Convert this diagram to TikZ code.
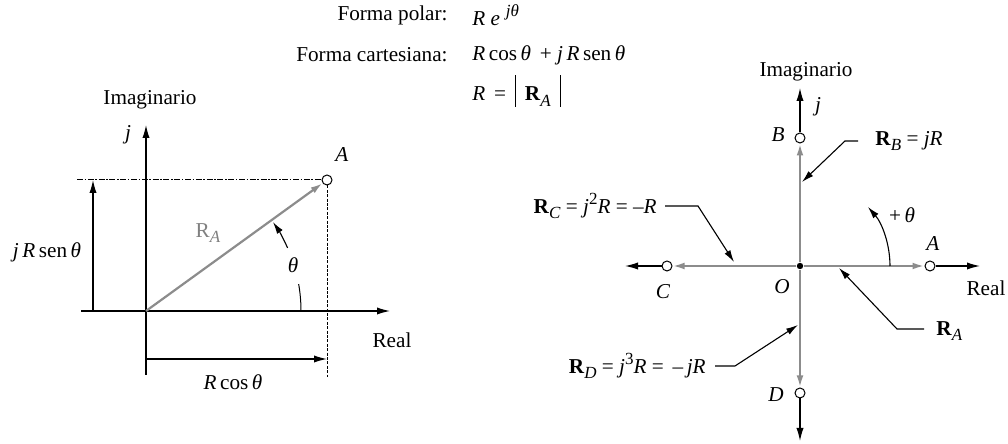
\documentclass[tikz,border=0pt]{standalone}
\usepackage{fontspec}
\setmainfont{Liberation Serif}
\usetikzlibrary{arrows.meta}
\newcommand{\mi}[1]{\textit{#1}}
\newcommand{\sbx}[1]{\raisebox{-0.55ex}{\fontsize{8.5}{9}\selectfont\textit{#1}}}
\newcommand{\spx}[1]{\raisebox{0.9ex}{\fontsize{8.5}{9}\selectfont #1}}
\newcommand{\vR}[1]{\textbf{R}\sbx{#1}}
\newcommand{\gR}[1]{R\sbx{#1}}
\begin{document}
\begin{tikzpicture}[x=0.5pt,y=0.5pt,
  every node/.style={font=\fontsize{10.6}{12}\selectfont, inner sep=1pt},
  axis/.style={line width=0.6pt, -{Latex[length=6.5pt,width=3.6pt]}},
  vec/.style={draw=black!45, line width=1.1pt, -{Latex[length=6pt,width=3.4pt]}},
  lead/.style={line width=0.55pt, -{Latex[length=6pt,width=3.4pt]}},
  pt/.style={circle, draw, fill=white, line width=0.5pt, minimum size=5pt, inner sep=0pt},
  thin/.style={line width=0.5pt},
  dsh/.style={line width=0.5pt, dash pattern=on 3pt off 0.8pt on 0.8pt off 0.8pt},
  dot/.style={line width=0.5pt, dash pattern=on 1.5pt off 0.7pt}]
\useasboundingbox (0,0) rectangle (1008,444);

% ---------- top formulas ----------
\node[anchor=east] (fp) at (450,429) {Forma polar:};
\node[anchor=west] (fpv) at (470,429) {\mi{R e}\;\spx{\mi{jθ}}};
\node[anchor=east] (fc) at (450,389) {Forma cartesiana:};
\node[anchor=west] (fcv) at (470,389) {\mi{R}\,cos\,\mi{θ}\, + \mi{j\,R}\,sen\,\mi{θ}};
\node[anchor=west] (fm) at (470,353) {\mi{R} \,=\, \raisebox{-0.6ex}{\rule{0.5pt}{3.2ex}}\, \vR{A}\, \raisebox{-0.6ex}{\rule{0.5pt}{3.2ex}}};

% ---------- left diagram ----------
\coordinate (O) at (146,133);
\node[pt] (A) at (327,264) {};
\draw[axis] (81,133) -- (390,133);
\draw[axis] (146,69) -- (146,319);
\coordinate (dl) at (77,264);
\coordinate (db) at (327,67);
\draw[dsh] (dl) -- (A.west);
\draw[dot] (A.south) -- (db);
\coordinate (ya) at (93,133);
\coordinate (yb) at (93,264);
\draw[axis] (ya) -- (yb);
\coordinate (xa) at (146,85);
\coordinate (xb) at (327,85);
\draw[axis] (xa) -- (xb);
\draw[vec] (O) -- (A);
\draw[thin] ([shift={(0:155)}]O) arc (0:10:155);
\draw[lead] ([shift={(24:155)}]O) arc (24:35:155);
\node (th) at (293,179) {\mi{θ}};
\node (im1) at (150,344) {Imaginario};
\node (j1) at (128,309) {\mi{j}};
\node (lA) at (342,289) {\mi{A}};
\node[text=black!50] (ra) at (208,211) {\gR{A}};
\node (jr) at (47,192) {\mi{j\,R}\,sen\,\mi{θ}};
\node (re1) at (392,104) {Real};
\node (rc) at (233,62) {\mi{R}\,cos\,\mi{θ}};

% ---------- right diagram ----------
\node[circle, fill, inner sep=0pt, minimum size=3.2pt] (O2) at (800,178) {};
\node[pt] (A2) at (930,178) {};
\node[pt] (B2) at (800,306) {};
\node[pt] (C2) at (667,178) {};
\node[pt] (D2) at (800,51) {};
\draw[axis] (A2) -- (980,178);
\draw[axis] (C2) -- (625,178);
\draw[axis] (B2) -- (800,356);
\draw[axis] (D2) -- (800,3);
\draw[vec] (O2) -- (A2);
\draw[vec] (O2) -- (B2);
\draw[vec] (O2) -- (C2);
\draw[vec] (O2) -- (D2);
\draw[lead] ([shift={(0:90)}]O2.center) arc (0:41:90);
\node (pth) at (902,229) {+\,\mi{θ}};
\node (im2) at (806,372) {Imaginario};
\node (j2) at (818,337) {\mi{j}};
\node (lB) at (778,309) {\mi{B}};
\node (lA2) at (933,200) {\mi{A}};
\node (lC) at (663,152) {\mi{C}};
\node (lO) at (782,157) {\mi{O}};
\node (lD) at (776,49) {\mi{D}};
\node (re2) at (986,156) {Real};

\node[anchor=west] (rb) at (873,303) {\vR{B} = \mi{jR}};
\draw[lead] (rb.west) ++(-15,0) coordinate (rb1) -- ++(-13,0) -- (802,262);
\node[anchor=east] (rcl) at (659,238) {\vR{C} = \mi{j}\spx{2}\mi{R} = –\mi{R}};
\draw[lead] (rcl.east) ++(6,0) -- (698,238) -- (734,182);
\node[anchor=west] (ral) at (934,113) {\vR{A}};
\draw[lead] (ral.west) ++(-10,2) -- (897,115) -- (839,176);
\node[anchor=east] (rdl) at (708,78) {\vR{D} = \mi{j}\spx{3}\mi{R} = \,–\,\mi{jR}};
\draw[lead] (rdl.east) ++(7,0) -- (735,78) -- (798,119);
\end{tikzpicture}
\end{document}
